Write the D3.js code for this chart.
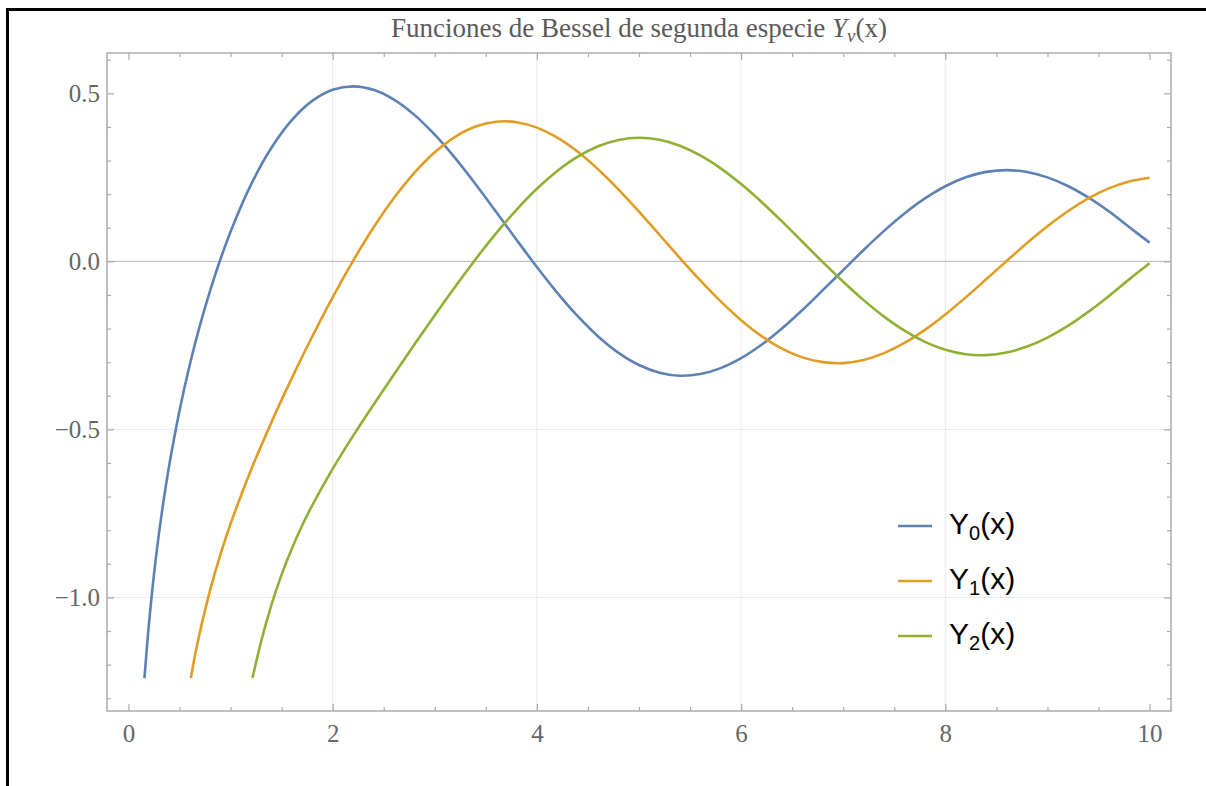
<!DOCTYPE html>
<html>
<head>
<meta charset="utf-8">
<script src="https://cdn.jsdelivr.net/npm/d3@7"></script>
<style>
  html, body { margin: 0; padding: 0; background: #fff; }
  svg { display: block; }
</style>
</head>
<body>
<svg id="chart" width="1206" height="786"></svg>
<script>
// Bessel functions of the second kind, sampled [x, Y(x)]
const seriesNames = ["0", "1", "2"];
const seriesColors = ["#5E81B5", "#E19C24", "#8FB032"];

const y0Points = [
  [0.157, -1.24], [0.2, -1.0811], [0.25, -0.9316], [0.3, -0.8073], [0.35, -0.7003],
  [0.4, -0.6060], [0.5, -0.4445], [0.6, -0.3085], [0.7, -0.1907], [0.8, -0.0868],
  [0.9, 0.0056], [1.0, 0.0883], [1.2, 0.2282], [1.4, 0.3379], [1.6, 0.4204],
  [1.8, 0.4774], [2.0, 0.5104], [2.2, 0.5208], [2.4, 0.5104], [2.6, 0.4813],
  [2.8, 0.4359], [3.0, 0.3769], [3.2, 0.3071], [3.4, 0.2296], [3.6, 0.1477],
  [3.8, 0.0645], [4.0, -0.0169], [4.2, -0.0938], [4.4, -0.1633], [4.6, -0.2235],
  [4.8, -0.2723], [5.0, -0.3085], [5.2, -0.3313], [5.4, -0.3402], [5.6, -0.3354],
  [5.8, -0.3177], [6.0, -0.2882], [6.2, -0.2483], [6.4, -0.1999], [6.6, -0.1449],
  [6.8, -0.0858], [7.0, -0.0259], [7.2, 0.0339], [7.4, 0.0907], [7.6, 0.1424],
  [7.8, 0.1872], [8.0, 0.2235], [8.2, 0.2501], [8.4, 0.2662], [8.6, 0.2715],
  [8.8, 0.2659], [9.0, 0.2499], [9.2, 0.2243], [9.4, 0.1901], [9.6, 0.1489],
  [9.8, 0.1022], [10.0, 0.0557]
];

const y1Points = [
  [0.611, -1.24], [0.65, -1.1751], [0.7, -1.1032], [0.8, -0.9781], [0.9, -0.8731],
  [1.0, -0.7812], [1.2, -0.6211], [1.4, -0.4791], [1.6, -0.3476], [1.8, -0.2237],
  [2.0, -0.1070], [2.2, 0.0015], [2.4, 0.1005], [2.6, 0.1884], [2.8, 0.2635],
  [3.0, 0.3247], [3.2, 0.3707], [3.4, 0.4010], [3.6, 0.4154], [3.8, 0.4141],
  [4.0, 0.3979], [4.2, 0.3680], [4.4, 0.3260], [4.6, 0.2737], [4.8, 0.2136],
  [5.0, 0.1479], [5.2, 0.0792], [5.4, 0.0101], [5.6, -0.0568], [5.8, -0.1192],
  [6.0, -0.1750], [6.2, -0.2223], [6.4, -0.2596], [6.6, -0.2857], [6.8, -0.2998],
  [7.0, -0.3027], [7.2, -0.2934], [7.4, -0.2731], [7.6, -0.2428], [7.8, -0.2039],
  [8.0, -0.1581], [8.2, -0.1072], [8.4, -0.0535], [8.6, 0.0011], [8.8, 0.0544],
  [9.0, 0.1043], [9.2, 0.1491], [9.4, 0.1871], [9.6, 0.2171], [9.8, 0.2379],
  [10.0, 0.2490]
];

const y2Points = [
  [1.215, -1.24], [1.3, -1.1303], [1.4, -1.0223], [1.5, -0.9322], [1.6, -0.8549],
  [1.7, -0.7869], [1.8, -0.7260], [2.0, -0.6174], [2.2, -0.5194], [2.4, -0.4266],
  [2.6, -0.3364], [2.8, -0.2477], [3.0, -0.1604], [3.2, -0.0754], [3.4, 0.0063],
  [3.6, 0.0831], [3.8, 0.1534], [4.0, 0.2159], [4.2, 0.2690], [4.4, 0.3115],
  [4.6, 0.3425], [4.8, 0.3613], [5.0, 0.3677], [5.2, 0.3618], [5.4, 0.3439],
  [5.6, 0.3151], [5.8, 0.2766], [6.0, 0.2299], [6.2, 0.1766], [6.4, 0.1188],
  [6.6, 0.0583], [6.8, -0.0024], [7.0, -0.0606], [7.2, -0.1154], [7.4, -0.1645],
  [7.6, -0.2063], [7.8, -0.2395], [8.0, -0.2630], [8.2, -0.2762], [8.4, -0.2789],
  [8.6, -0.2712], [8.8, -0.2535], [9.0, -0.2267], [9.2, -0.1919], [9.4, -0.1503],
  [9.6, -0.1037], [9.8, -0.0536], [10.0, -0.0059]
];

const xMajorTicks = [0, 2, 4, 6, 8, 10];
const yMajorTicks = [-1.0, -0.5, 0.0, 0.5];
const xGridValues = [2, 4, 6, 8];
const yGridValues = [-1.0, -0.5];

const svg = d3.select("#chart");
const W = 1206, H = 786;
const frame = { left: 107, right: 1171, top: 53, bottom: 711 };

const x = d3.scaleLinear().domain([-0.21, 10.21]).range([frame.left, frame.right]);
const y = d3.scaleLinear().domain([-1.338, 0.62]).range([frame.bottom, frame.top]);

// outer black border (top and left edges show)
svg.append("rect")
  .attr("x", 7.5).attr("y", 9.5)
  .attr("width", W + 20).attr("height", H + 20)
  .attr("fill", "#fff").attr("stroke", "#000").attr("stroke-width", 3);

// title
const title = svg.append("text")
  .attr("x", (frame.left + frame.right) / 2).attr("y", 37)
  .attr("text-anchor", "middle")
  .attr("font-family", "'Liberation Serif', 'Times New Roman', serif")
  .attr("font-size", 27).attr("fill", "#5a5a5a");
title.append("tspan").text("Funciones de Bessel de segunda especie ");
title.append("tspan").attr("font-style", "italic").text("Y");
title.append("tspan").attr("font-style", "italic").attr("font-size", 19).attr("dy", 5).text("ν");
title.append("tspan").attr("dy", -5).text("(x)");

// grid lines
const grid = svg.append("g").attr("stroke", "#e8e8e8").attr("stroke-width", 1);
grid.selectAll("line.gx").data(xGridValues).join("line")
  .attr("x1", d => x(d)).attr("x2", d => x(d))
  .attr("y1", frame.top).attr("y2", frame.bottom);
grid.selectAll("line.gy").data(yGridValues).join("line")
  .attr("x1", frame.left).attr("x2", frame.right)
  .attr("y1", d => y(d)).attr("y2", d => y(d));

// zero axis
svg.append("line")
  .attr("x1", frame.left).attr("x2", frame.right)
  .attr("y1", y(0)).attr("y2", y(0))
  .attr("stroke", "#b4b4b4").attr("stroke-width", 1);

// curves
const clipId = "plot-clip";
svg.append("clipPath").attr("id", clipId).append("rect")
  .attr("x", frame.left).attr("y", frame.top)
  .attr("width", frame.right - frame.left).attr("height", frame.bottom - frame.top);

const line = d3.line()
  .x(d => x(d[0])).y(d => y(d[1]))
  .curve(d3.curveCatmullRom.alpha(0.5));

const allSeries = [y0Points, y1Points, y2Points];
svg.append("g").attr("clip-path", `url(#${clipId})`)
  .selectAll("path").data(allSeries).join("path")
  .attr("d", line)
  .attr("fill", "none")
  .attr("stroke", (d, i) => seriesColors[i])
  .attr("stroke-width", 2.6)
  .attr("stroke-linejoin", "round");

// frame with inward ticks on all four sides
const tickColor = "#aaaaaa";
const xMinor = d3.range(0, 10.01, 0.5).filter(v => v % 2 !== 0);
const yMinor = d3.range(-13, 7).map(v => v / 10).filter(v => Math.abs(v * 2 - Math.round(v * 2)) > 1e-9);

function styleAxis(g) {
  g.select(".domain").remove();
  g.selectAll(".tick line").attr("stroke", tickColor).attr("stroke-width", 1.2);
  g.selectAll(".tick text")
    .attr("font-family", "'Liberation Serif', 'Times New Roman', serif")
    .attr("font-size", 25).attr("fill", "#666");
}

const gxb = svg.append("g").attr("transform", `translate(0,${frame.bottom})`)
  .call(d3.axisBottom(x).tickValues(xMajorTicks).tickSizeInner(-7).tickSizeOuter(0).tickFormat(d3.format("d")));
styleAxis(gxb);
gxb.selectAll(".tick text").attr("dy", null).attr("y", 31);

const gxbm = svg.append("g").attr("transform", `translate(0,${frame.bottom})`)
  .call(d3.axisBottom(x).tickValues(xMinor).tickSizeInner(-4).tickSizeOuter(0).tickFormat(""));
styleAxis(gxbm);

const gxt = svg.append("g").attr("transform", `translate(0,${frame.top})`)
  .call(d3.axisTop(x).tickValues(xMajorTicks).tickSizeInner(-7).tickSizeOuter(0).tickFormat(""));
styleAxis(gxt);
const gxtm = svg.append("g").attr("transform", `translate(0,${frame.top})`)
  .call(d3.axisTop(x).tickValues(xMinor).tickSizeInner(-4).tickSizeOuter(0).tickFormat(""));
styleAxis(gxtm);

const minusFmt = d => (d < 0 ? "\u2212" : "") + Math.abs(d).toFixed(1);
const gyl = svg.append("g").attr("transform", `translate(${frame.left},0)`)
  .call(d3.axisLeft(y).tickValues(yMajorTicks).tickSizeInner(-7).tickSizeOuter(0).tickFormat(minusFmt));
styleAxis(gyl);
gyl.selectAll(".tick text").attr("x", -7);

const gylm = svg.append("g").attr("transform", `translate(${frame.left},0)`)
  .call(d3.axisLeft(y).tickValues(yMinor).tickSizeInner(-4).tickSizeOuter(0).tickFormat(""));
styleAxis(gylm);

const gyr = svg.append("g").attr("transform", `translate(${frame.right},0)`)
  .call(d3.axisRight(y).tickValues(yMajorTicks).tickSizeInner(-7).tickSizeOuter(0).tickFormat(""));
styleAxis(gyr);
const gyrm = svg.append("g").attr("transform", `translate(${frame.right},0)`)
  .call(d3.axisRight(y).tickValues(yMinor).tickSizeInner(-4).tickSizeOuter(0).tickFormat(""));
styleAxis(gyrm);

svg.append("rect")
  .attr("x", frame.left).attr("y", frame.top)
  .attr("width", frame.right - frame.left).attr("height", frame.bottom - frame.top)
  .attr("fill", "none").attr("stroke", "#b0b0b0").attr("stroke-width", 1.6);

// legend
const legend = svg.append("g").attr("transform", "translate(898,526)");
const rows = legend.selectAll("g").data(seriesNames).join("g")
  .attr("transform", (d, i) => `translate(0,${i * 55})`);
rows.append("line")
  .attr("x1", 0).attr("x2", 34).attr("y1", 0).attr("y2", 0)
  .attr("stroke", (d, i) => seriesColors[i]).attr("stroke-width", 2.6);
const lt = rows.append("text")
  .attr("x", 51).attr("y", 8)
  .attr("font-family", "'Liberation Sans', Arial, sans-serif")
  .attr("font-size", 30).attr("fill", "#000");
lt.append("tspan").text("Y");
lt.append("tspan").attr("font-size", 20).attr("dy", 6).text(d => d);
lt.append("tspan").attr("dy", -6).text("(x)");
</script>
</body>
</html>
